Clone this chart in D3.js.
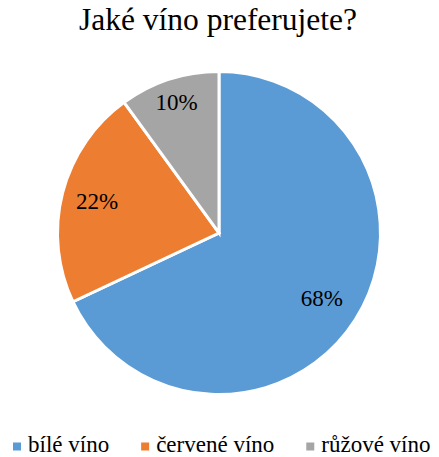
<!DOCTYPE html>
<html><head><meta charset="utf-8">
<script src="https://cdn.jsdelivr.net/npm/d3@7"></script>
<style>body{margin:0;background:#fff}svg{display:block}</style>
</head><body>
<svg id="c" width="439" height="457"></svg>
<script>
const categories = ["bílé víno", "červené víno", "růžové víno"];
const values = [68, 22, 10];
const colors = ["#5B9BD5", "#ED7D31", "#A5A5A5"];
const title = "Jaké víno preferujete?";

const svg = d3.select("#c");
const cx = 219, cy = 233, R = 161.5;
const font = "'Liberation Serif'";

svg.append("text").attr("x", 218).attr("y", 30).attr("text-anchor", "middle")
  .attr("font-family", font).attr("font-size", 31.5).attr("fill", "#000").text(title);

const pie = d3.pie().sort(null).value(d => d)(values);
const arc = d3.arc().innerRadius(0).outerRadius(R);
// best-fit style label placement: small slices pushed further out
const labelFactor = v => v < 15 ? 0.85 : (v < 50 ? 0.78 : 0.755);

const g = svg.append("g").attr("transform", `translate(${cx},${cy})`);
g.selectAll("path").data(pie).join("path")
  .attr("d", arc).attr("fill", (d, i) => colors[i])
  .attr("stroke", "#fff").attr("stroke-width", 3).attr("stroke-linejoin", "miter");

g.selectAll("text").data(pie).join("text")
  .attr("transform", d => {
    const r = R * labelFactor(d.value);
    return `translate(${d3.arc().innerRadius(r).outerRadius(r).centroid(d)})`;
  })
  .attr("text-anchor", "middle").attr("dy", "0.33em")
  .attr("font-family", font).attr("font-size", 23).attr("fill", "#000")
  .text(d => d.value + "%");

// legend
const legend = svg.append("g");
let x = 13;
const ly = 452;
categories.forEach((c, i) => {
  legend.append("rect").attr("x", x).attr("y", ly - 9.5).attr("width", 8).attr("height", 8).attr("fill", colors[i]);
  const t = legend.append("text").attr("x", x + 15).attr("y", ly)
    .attr("font-family", font).attr("font-size", 23).attr("fill", "#000").text(c);
  x = x + 15 + t.node().getComputedTextLength() + 32;
});
</script>
</body></html>
